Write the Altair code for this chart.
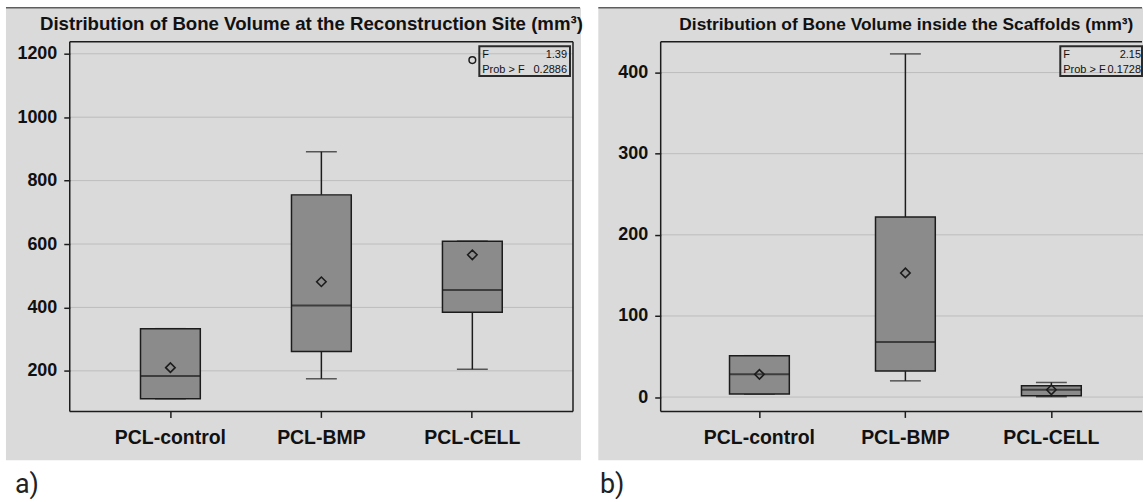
import altair as alt
import pandas as pd

groups = ["PCL-control", "PCL-BMP", "PCL-CELL"]

# ---- Panel a: bone volume at the reconstruction site (mm3)
a_min = [112, 175, 205]
a_q1 = [112, 261, 385]
a_med = [184, 406, 455]
a_q3 = [333, 755, 609]
a_max = [333, 891, 609]
a_mean = [210, 481, 566]
a_out_group = ["PCL-CELL"]
a_out_val = [1180]
a_ticks = [200, 400, 600, 800, 1000, 1200]
a_domain = [72, 1238]
a_title = "Distribution of Bone Volume at the Reconstruction Site (mm³)"
a_F = "1.39"
a_P = "0.2886"

# ---- Panel b: bone volume inside the scaffolds (mm3)
b_min = [3.7, 20, 0.5]
b_q1 = [3.7, 32, 1.6]
b_med = [28, 68, 9]
b_q3 = [51, 222, 14]
b_max = [51, 423, 18]
b_mean = [28, 153, 9]
b_out_group = []
b_out_val = []
b_ticks = [0, 100, 200, 300, 400]
b_domain = [-17.7, 438]
b_title = "Distribution of Bone Volume inside the Scaffolds (mm³)"
b_F = "2.15"
b_P = "0.1728"

GREY = "#dadada"
BOX = "#8b8b8b"
INK = "#1c1c1c"
GRID = "#bdbdbd"
FONT = "Liberation Sans"
LETTER_FONT = "Roboto"
H = 371


def one():
    return pd.DataFrame({"k": [0]})


def panel(mins, q1s, meds, q3s, maxs, means, out_g, out_v, ticks, domain,
          title, title_size, F, P, label, W, left_ext, right_ext, pad_outer, align,
          title_x, label_x, stat_x1, stat_x2, txt_l, txt_r, right_frame):
    df = pd.DataFrame({"group": groups, "min": mins, "q1": q1s, "median": meds,
                       "q3": q3s, "max": maxs, "mean": means})
    xs = alt.Scale(type="band", domain=groups, paddingInner=0,
                   paddingOuter=pad_outer, align=align)
    ys = alt.Scale(domain=domain, nice=False, zero=False)
    xaxis = alt.Axis(title=None, labelAngle=0, domain=False, ticks=True, tickSize=6,
                     tickColor=INK, tickWidth=1.5, labelFont=FONT, labelFontWeight="bold",
                     labelFontSize=19.5, labelColor="#111", labelPadding=11, zindex=1)
    yaxis = alt.Axis(title=None, values=ticks, format="d", grid=False, domain=False,
                     ticks=True, tickSize=6, tickColor=INK, tickWidth=1.5,
                     labelFont=FONT, labelFontWeight="bold", labelFontSize=18,
                     labelColor="#111", labelPadding=7, zindex=1)
    X = alt.X("group:N", scale=xs, sort=groups, axis=xaxis)

    def Y(f):
        return alt.Y(f, type="quantitative", scale=ys, axis=yaxis)

    base = alt.Chart(df)
    layers = []
    # panel background and its top line
    layers.append(alt.Chart(one()).mark_rect(color=GREY).encode(
        x=alt.value(-left_ext), x2=alt.value(W + right_ext),
        y=alt.value(-34), y2=alt.value(H + 49)))
    layers.append(alt.Chart(one()).mark_rule(color="#5e5e5e", strokeWidth=1.5).encode(
        x=alt.value(-left_ext), x2=alt.value(W + right_ext - 1), y=alt.value(-34)))
    # grid lines
    layers.append(alt.Chart(pd.DataFrame({"t": ticks})).mark_rule(
        color=GRID, strokeWidth=1).encode(y=Y("t")))
    # whiskers
    layers.append(base.mark_rule(color=INK, strokeWidth=1.5).encode(
        x=X, y=Y("min"), y2="q1"))
    layers.append(base.mark_rule(color=INK, strokeWidth=1.5).encode(
        x=X, y=Y("q3"), y2="max"))
    layers.append(base.mark_tick(color=INK, orient="horizontal", size=31,
                                 thickness=1.5).encode(x=X, y=Y("min")))
    layers.append(base.mark_tick(color=INK, orient="horizontal", size=31,
                                 thickness=1.5).encode(x=X, y=Y("max")))
    # boxes
    layers.append(base.mark_bar(size=60, color=BOX, stroke=INK, strokeWidth=1.5).encode(
        x=X, y=Y("q1"), y2="q3"))
    layers.append(base.mark_tick(color=INK, orient="horizontal", size=60,
                                 thickness=2).encode(x=X, y=Y("median")))
    layers.append(base.mark_point(shape="diamond", size=90, filled=False, color=INK,
                                  strokeWidth=1.6, opacity=1).encode(x=X, y=Y("mean")))
    if out_v:
        odf = pd.DataFrame({"group": out_g, "v": out_v})
        layers.append(alt.Chart(odf).mark_point(shape="circle", size=45, filled=False,
                                                color=INK, strokeWidth=1.5,
                                                opacity=1).encode(x=X, y=Y("v")))
    # plot frame
    xr = W if right_frame else W - 1
    layers.append(alt.Chart(one()).mark_rule(color=INK, strokeWidth=1.5).encode(
        x=alt.value(0), x2=alt.value(xr), y=alt.value(0)))
    layers.append(alt.Chart(one()).mark_rule(color=INK, strokeWidth=1.5).encode(
        x=alt.value(0), x2=alt.value(xr), y=alt.value(H)))
    layers.append(alt.Chart(one()).mark_rule(color=INK, strokeWidth=1.5).encode(
        x=alt.value(0), y=alt.value(0), y2=alt.value(H)))
    if right_frame:
        layers.append(alt.Chart(one()).mark_rule(color=INK, strokeWidth=1.5).encode(
            x=alt.value(W), y=alt.value(0), y2=alt.value(H)))
    # F-test box
    layers.append(alt.Chart(one()).mark_rect(fillOpacity=0, stroke="#2a2a2a",
                                             strokeWidth=2).encode(
        x=alt.value(stat_x1), x2=alt.value(stat_x2), y=alt.value(4.5), y2=alt.value(34.5)))
    for txt, xx, yy, al in [("F", txt_l, 16.5, "left"), (F, txt_r, 16.5, "right"),
                            ("Prob > F", txt_l, 31, "left"), (P, txt_r, 31, "right")]:
        layers.append(alt.Chart(one()).mark_text(
            font=FONT, fontSize=11, color="#111", align=al, baseline="alphabetic").encode(
            x=alt.value(xx), y=alt.value(yy), text=alt.value(txt)))
    # title
    layers.append(alt.Chart(one()).mark_text(
        font=FONT, fontWeight="bold", fontSize=title_size, color="#111", align="center",
        baseline="alphabetic").encode(
        x=alt.value(title_x), y=alt.value(-11.5), text=alt.value(title)))
    # panel letter
    layers.append(alt.Chart(one()).mark_text(
        font=LETTER_FONT, fontSize=27, color="#222", align="left",
        baseline="alphabetic").encode(
        x=alt.value(label_x), y=alt.value(H + 82), text=alt.value(label)))
    return alt.layer(*layers).properties(width=W, height=H)


Wa = 505
Wb = 484
pa = panel(a_min, a_q1, a_med, a_q3, a_max, a_mean, a_out_group, a_out_val, a_ticks,
           a_domain, a_title, 18.7, a_F, a_P, "a)", Wa, 64, 8, 0.1667, 0.5,
           242.5, -55, 411, 502, 414, 499, True)
pb = panel(b_min, b_q1, b_med, b_q3, b_max, b_mean, b_out_group, b_out_val, b_ticks,
           b_domain, b_title, 17.4, b_F, b_P, "b)", Wb, 62.6, 0, 0.152, 0.58,
           246.5, -61, 401, Wb - 1, 404, 482, False)

chart = alt.hconcat(pa, pb, spacing=14).properties(
    padding={"left": 5, "top": 6, "right": 0, "bottom": 0},
    background="white",
).configure_view(strokeWidth=0)

chart.save("out.html", embed_options={"renderer": "svg", "actions": False})
